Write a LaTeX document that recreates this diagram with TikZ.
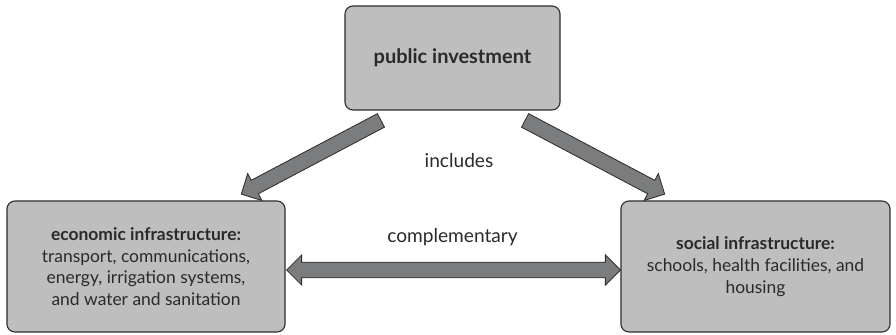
\documentclass[tikz,border=0pt]{standalone}
\usepackage{fontspec}
\setmainfont{Lato}
\usetikzlibrary{shapes.arrows,calc}
\definecolor{relleno}{HTML}{BEBEBF}
\definecolor{flechagris}{HTML}{7B7C7D}
\definecolor{borde}{HTML}{2E2E2E}
\definecolor{texto}{HTML}{2A2A2A}
\begin{document}
\begin{tikzpicture}[x=0.025cm, y=-0.025cm,
				font=\fontsize{12.4}{15.4}\selectfont, text=texto,
				caja/.style={draw=borde, fill=relleno, line width=0.8pt, rounded corners=0.2cm, align=center, inner sep=0pt},
				etiqueta/.style={font=\fontsize{13.6}{16}\selectfont},
				flecha/.style={single arrow, draw=borde, fill=flechagris, line width=0.6pt, inner xsep=0pt, inner ysep=0.18cm,
					single arrow head extend=0.19cm, single arrow tip angle=90},
				flechadoble/.style={double arrow, draw=borde, fill=flechagris, line width=0.6pt, inner xsep=0pt, inner ysep=0.185cm,
					double arrow head extend=0.18cm, double arrow tip angle=90}]
				\useasboundingbox (0,0) rectangle (896,335);
				\node[caja, minimum width=5.375cm, minimum height=2.6cm, font=\fontsize{14.2}{17}\selectfont] (pub) at (452.5,58) {\textbf{public investment}};
				\node[caja, minimum width=6.95cm, minimum height=3.275cm] (eco) at (146,266.5)
					{\textbf{economic infrastructure:}\\transport, communications,\\energy, irrigation systems,\\and water and sanitation};
				\node[caja, minimum width=6.725cm, minimum height=3.275cm] (soc) at (755.5,266.5)
					{\textbf{social infrastructure:}\\schools, health facilities, and\\housing};
				\node[etiqueta] (incluye) at (459,161) {includes};
				\node[etiqueta] (compl) at (452.5,237) {complementary};
				% extremos de las flechas
				\coordinate (a1) at ($(pub.south west)+(40,8)$);
				\coordinate (b1) at ($(eco.north east)+(-41,-8)$);
				\coordinate (a2) at ($(pub.south east)+(-39,8)$);
				\coordinate (b2) at ($(soc.north west)+(41,-8)$);
				\coordinate (c1) at ($(eco.east)+(1,3.5)$);
				\coordinate (c2) at ($(soc.west)+(0,3.5)$);
				\path let \p1=($(b1)-(a1)$), \n1={veclen(\x1,\y1)} in
					(a1) -- (b1) node[flecha, midway, sloped, allow upside down, minimum height=\n1] (f1) {};
				\path let \p1=($(b2)-(a2)$), \n1={veclen(\x1,\y1)} in
					(a2) -- (b2) node[flecha, midway, sloped, allow upside down, minimum height=\n1] (f2) {};
				\path let \p1=($(c2)-(c1)$), \n1={veclen(\x1,\y1)} in
					(c1) -- (c2) node[flechadoble, midway, sloped, minimum height=\n1] (f3) {};
			\end{tikzpicture}
\end{document}
